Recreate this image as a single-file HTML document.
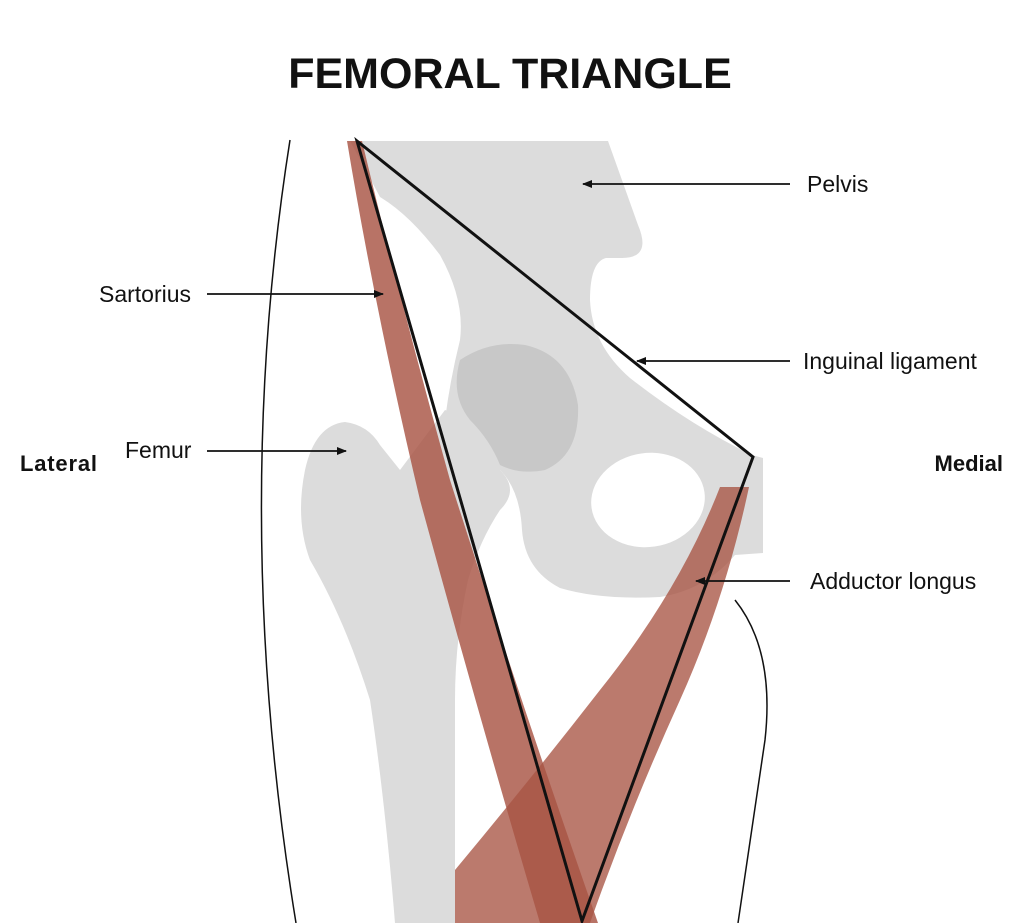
<!DOCTYPE html>
<html><head><meta charset="utf-8"><style>
html,body{margin:0;padding:0;background:#fff}
svg{display:block}
text{font-family:"Liberation Sans",Arial,sans-serif}
</style></head><body>
<svg width="1024" height="923" viewBox="0 0 1024 923" xmlns="http://www.w3.org/2000/svg">
<defs>
<marker id="ah" markerWidth="10" markerHeight="8" refX="9" refY="4" orient="auto" markerUnits="userSpaceOnUse">
<path d="M0,0 L10,4 L0,8 Z" fill="#111"/></marker>
</defs>
<text x="510" y="88" text-anchor="middle" font-size="43" font-weight="bold" fill="#111">FEMORAL TRIANGLE</text>

<!-- pelvis -->
<path d="M350,141 L608,141 L638,225 Q652,258 622,258 L606,258 Q590,262 590,300 Q592,345 630,378 Q690,425 752,455 L763,458 L763,553 L735,555 Q705,590 660,597 Q600,600 560,588 Q525,570 522,530 Q520,490 500,470 L470,460 L445,420 Q450,380 460,340 Q465,300 440,255 Q410,215 380,197 Z" fill="#dcdcdc"/>
<!-- femur -->
<path d="M305,470 Q315,425 345,422 Q368,425 380,445 L400,470 L445,410 L470,420 L500,470 Q520,490 500,510 Q480,540 468,580 Q455,640 455,700 L455,923 L395,923 Q385,800 370,700 Q345,620 310,560 Q295,520 305,470 Z" fill="#dcdcdc"/>
<!-- femoral head -->
<path d="M460,360 Q490,340 525,345 Q570,355 578,405 Q580,455 545,470 Q520,475 500,465 Q490,440 470,420 Q450,395 460,360 Z" fill="#c8c8c8"/>
<!-- obturator foramen -->
<ellipse cx="648" cy="500" rx="57" ry="47" transform="rotate(-8 648 500)" fill="#fff"/>

<!-- muscles -->
<path d="M347,141 L362,141 Q400,300 450,480 Q520,700 598,923 L540,923 Q480,720 420,500 Q375,310 347,141 Z" fill="#a85444" fill-opacity="0.82"/>
<path d="M720,487 L749,487 Q725,600 680,700 Q630,810 590,923 L455,923 L455,870 Q530,780 600,690 Q680,590 720,487 Z" fill="#a85444" fill-opacity="0.78"/>

<!-- outline curves -->
<path d="M290,140 Q230,520 296,923" fill="none" stroke="#111" stroke-width="1.5"/>
<path d="M735,600 Q775,650 765,740 Q750,840 738,923" fill="none" stroke="#111" stroke-width="1.5"/>

<!-- triangle -->
<path d="M357,141 L753,457 L582,921 Z" fill="none" stroke="#111" stroke-width="3" stroke-linejoin="miter"/>

<!-- labels -->
<g fill="#111" font-size="23">
<text x="807" y="192">Pelvis</text>
<text x="99" y="302">Sartorius</text>
<text x="803" y="369">Inguinal ligament</text>
<text x="125" y="458">Femur</text>
<text x="810" y="589">Adductor longus</text>
</g>
<text x="20" y="471" font-size="22" font-weight="bold" fill="#111" textLength="77">Lateral</text>
<text x="1003" y="471" text-anchor="end" font-size="22" font-weight="bold" fill="#111">Medial</text>
<g stroke="#111" stroke-width="1.8">
<line x1="790" y1="184" x2="583" y2="184" marker-end="url(#ah)"/>
<line x1="207" y1="294" x2="383" y2="294" marker-end="url(#ah)"/>
<line x1="790" y1="361" x2="637" y2="361" marker-end="url(#ah)"/>
<line x1="207" y1="451" x2="346" y2="451" marker-end="url(#ah)"/>
<line x1="790" y1="581" x2="696" y2="581" marker-end="url(#ah)"/>
</g>
</svg>
</body></html>
